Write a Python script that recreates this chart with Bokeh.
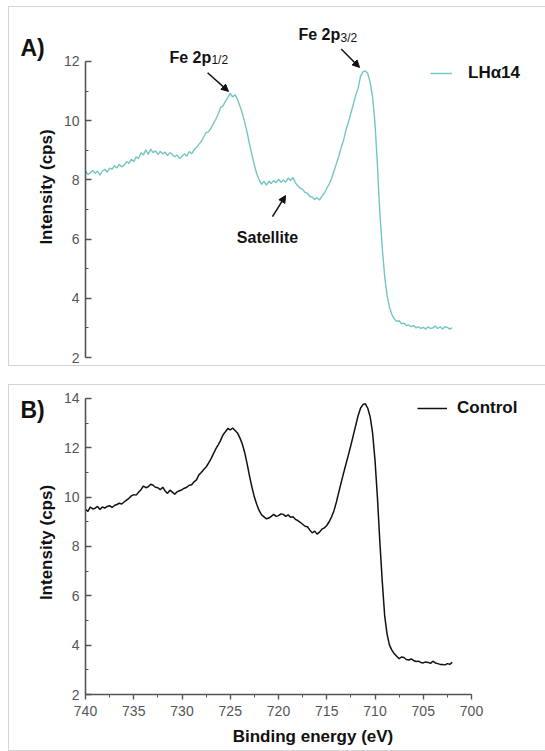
from bokeh.plotting import figure
from bokeh.models import (Range1d, SingleIntervalTicker, Legend, LegendItem,
                          Label, Arrow, NormalHead)
from bokeh.layouts import column
from bokeh.embed import file_html
from bokeh.resources import INLINE

# ---------------- data ----------------
# binding energy grid, 740 -> 702 eV in 0.25 eV steps (153 points)
energy = [740 - 0.25 * i for i in range(153)]

lha14 = [
    8.30, 8.18, 8.24, 8.32, 8.22, 8.30, 8.16, 8.30,          # 740 - 738.25
    8.36, 8.26, 8.40, 8.36, 8.48, 8.40, 8.52, 8.44,          # 738 - 736.25
    8.50, 8.62, 8.56, 8.70, 8.62, 8.78, 8.72, 8.92,          # 736 - 734.25
    8.84, 9.02, 8.86, 9.04, 8.92, 8.98, 8.86, 8.96,          # 734 - 732.25
    8.88, 8.94, 8.82, 8.92, 8.86, 8.78, 8.84, 8.72,          # 732 - 730.25
    8.80, 8.88, 8.80, 8.96, 8.88, 9.02, 9.10, 9.20,          # 730 - 728.25
    9.30, 9.45, 9.60, 9.62, 9.75, 9.90, 10.05, 10.22,        # 728 - 726.25
    10.45, 10.50, 10.65, 10.78, 10.92, 10.80, 10.88, 10.72,  # 726 - 724.25
    10.50, 10.25, 9.95, 9.60, 9.20, 8.85, 8.50, 8.20,        # 724 - 722.25
    8.00, 7.85, 7.95, 7.82, 7.96, 7.88, 7.98, 7.90,          # 722 - 720.25
    8.02, 7.92, 8.00, 7.92, 8.06, 7.98, 8.08, 7.90,          # 720 - 718.25
    7.80, 7.72, 7.68, 7.58, 7.55, 7.44, 7.42, 7.34,          # 718 - 716.25
    7.40, 7.32, 7.45, 7.55, 7.72, 7.85, 8.05, 8.30,          # 716 - 714.25
    8.55, 8.80, 9.10, 9.35, 9.70, 9.95, 10.25, 10.55,        # 714 - 712.25
    10.85, 11.10, 11.50, 11.65, 11.68, 11.60, 11.30, 10.80,  # 712 - 710.25
    9.90, 8.50, 6.90, 5.70, 4.75, 4.10, 3.70, 3.45,          # 710 - 708.25
    3.30, 3.22, 3.24, 3.14, 3.16, 3.08, 3.10, 3.04,          # 708 - 706.25
    3.08, 3.00, 3.04, 2.98, 3.02, 2.96, 3.04, 2.98,          # 706 - 704.25
    3.00, 3.06, 2.98, 3.04, 2.96, 3.04, 3.02, 2.96,          # 704 - 702.25
    3.00,                                                    # 702
]

control = [
    9.50, 9.42, 9.60, 9.52, 9.55, 9.62, 9.50, 9.60,          # 740 - 738.25
    9.55, 9.62, 9.65, 9.58, 9.66, 9.70, 9.75, 9.72,          # 738 - 736.25
    9.80, 9.88, 9.95, 10.05, 10.10, 10.08, 10.20, 10.30,     # 736 - 734.25
    10.45, 10.38, 10.42, 10.52, 10.48, 10.40, 10.38, 10.30,  # 734 - 732.25
    10.40, 10.25, 10.15, 10.28, 10.20, 10.12, 10.22, 10.26,  # 732 - 730.25
    10.30, 10.36, 10.40, 10.48, 10.50, 10.62, 10.70, 10.90,  # 730 - 728.25
    11.00, 11.12, 11.22, 11.38, 11.55, 11.75, 11.95, 12.12,  # 728 - 726.25
    12.30, 12.52, 12.65, 12.78, 12.72, 12.80, 12.70, 12.60,  # 726 - 724.25
    12.40, 12.15, 11.80, 11.35, 10.85, 10.40, 10.00, 9.70,   # 724 - 722.25
    9.45, 9.28, 9.20, 9.12, 9.15, 9.22, 9.30, 9.22,          # 722 - 720.25
    9.25, 9.32, 9.30, 9.22, 9.28, 9.18, 9.20, 9.10,          # 720 - 718.25
    9.05, 8.98, 8.90, 8.82, 8.80, 8.66, 8.55, 8.62,          # 718 - 716.25
    8.50, 8.58, 8.70, 8.75, 8.85, 9.00, 9.20, 9.45,          # 716 - 714.25
    9.80, 10.20, 10.60, 10.98, 11.35, 11.72, 12.10, 12.50,   # 714 - 712.25
    12.90, 13.30, 13.60, 13.75, 13.78, 13.60, 13.25, 12.60,  # 712 - 710.25
    11.50, 10.00, 8.20, 6.60, 5.20, 4.45, 4.00, 3.80,        # 710 - 708.25
    3.65, 3.55, 3.45, 3.52, 3.50, 3.42, 3.40, 3.44,          # 708 - 706.25
    3.38, 3.34, 3.35, 3.30, 3.28, 3.32, 3.30, 3.26,          # 706 - 704.25
    3.35, 3.28, 3.25, 3.22, 3.22, 3.20, 3.25, 3.22,          # 704 - 702.25
    3.30,                                                    # 702
]

series_names = ["LHα14", "Control"]
panel_tags = ["A)", "B)"]

FONT = "Liberation Sans"
TEAL = "#74c6c3"
INK = "#111111"
AXIS = "#555555"
BOX = {"outline": "1px solid #d4d4d4"}


def style_axes(p, y_top):
    ax = p.yaxis[0]
    ax.ticker = SingleIntervalTicker(interval=2, num_minor_ticks=2)
    ax.bounds = (2, y_top)
    ax.major_tick_in = 6
    ax.major_tick_out = 0
    ax.minor_tick_in = 3
    ax.minor_tick_out = 0
    ax.axis_line_color = AXIS
    ax.axis_line_width = 1.6
    ax.major_tick_line_color = AXIS
    ax.minor_tick_line_color = AXIS
    ax.major_tick_line_width = 1.4
    ax.major_label_text_font = FONT
    ax.major_label_text_font_size = "14px"
    ax.major_label_text_color = AXIS
    ax.major_label_standoff = 6
    ax.axis_label = "Intensity (cps)"
    ax.axis_label_text_font = FONT
    ax.axis_label_text_font_size = "17px"
    ax.axis_label_text_font_style = "bold"
    ax.axis_label_text_color = INK
    ax.axis_label_standoff = 5
    p.xgrid.visible = False
    p.ygrid.visible = False
    p.outline_line_color = None


def make_legend(renderer, name, vx, vy, gw, standoff):
    return Legend(items=[LegendItem(label=name, renderers=[renderer])],
                  location=(vx, vy), glyph_width=gw, glyph_height=20,
                  label_standoff=standoff, padding=0, margin=0, spacing=0,
                  border_line_alpha=0, background_fill_alpha=0,
                  label_text_font=FONT, label_text_font_style="bold",
                  label_text_font_size="17px", label_text_color=INK)


# ---------------- Panel A ----------------
pA = figure(width=536, height=358, output_backend="svg", toolbar_location=None,
            x_range=Range1d(740, 692.85), y_range=Range1d(2, 13.52),
            min_border_left=76, min_border_right=5, min_border_top=9,
            min_border_bottom=8)
pA.margin = (7, 0, 0, 9)
pA.styles = BOX
rA = pA.line(energy, lha14, line_color=TEAL, line_width=1.4)
style_axes(pA, 12)
pA.xaxis.visible = False
pA.add_layout(make_legend(rA, series_names[0], 345, 274, 22, 16))

pA.add_layout(Label(x=746.74, y=12.47, text=panel_tags[0], text_font=FONT,
                    text_font_size="23px", text_font_style="bold",
                    text_baseline="middle", text_color=INK), "left")

ann = dict(text_font=FONT, text_color=INK, text_baseline="alphabetic")
pA.add_layout(Label(x=731.3, y=12.15, text="Fe 2p", text_font_size="16px",
                    text_font_style="bold", **ann))
pA.add_layout(Label(x=726.95, y=12.05, text="1/2", text_font_size="12px", **ann))
pA.add_layout(Label(x=717.93, y=12.90, text="Fe 2p", text_font_size="16px",
                    text_font_style="bold", **ann))
pA.add_layout(Label(x=713.58, y=12.80, text="3/2", text_font_size="12px", **ann))
pA.add_layout(Label(x=721.14, y=6.06, text="Satellite", text_font_size="16px",
                    text_font_style="bold", text_align="center",
                    text_baseline="middle", text_font=FONT, text_color=INK))

for (x0, y0, x1, y1) in [(727.35, 11.62, 725.18, 10.99),
                         (713.5, 12.42, 711.6, 11.8),
                         (720.62, 6.76, 719.27, 7.47)]:
    pA.add_layout(Arrow(x_start=x0, y_start=y0, x_end=x1, y_end=y1,
                        line_color=INK, line_width=1.5,
                        end=NormalHead(size=7, fill_color=INK, line_color=INK)))

# ---------------- Panel B ----------------
pB = figure(width=536, height=365, output_backend="svg", toolbar_location=None,
            x_range=Range1d(740, 692.85), y_range=Range1d(2, 14.32),
            min_border_left=76, min_border_right=5, min_border_top=5,
            min_border_bottom=56)
pB.margin = (20, 0, 0, 9)
pB.styles = BOX
rB = pB.line(energy, control, line_color=INK, line_width=1.5)
style_axes(pB, 14)
xa = pB.xaxis[0]
xa.ticker = SingleIntervalTicker(interval=5, num_minor_ticks=2)
xa.bounds = (740, 700)
xa.major_tick_in = 0
xa.major_tick_out = 5
xa.minor_tick_in = 0
xa.minor_tick_out = 3
xa.axis_line_color = AXIS
xa.axis_line_width = 1.6
xa.major_tick_line_color = AXIS
xa.minor_tick_line_color = AXIS
xa.major_tick_line_width = 1.4
xa.major_label_text_font = FONT
xa.major_label_text_font_size = "14px"
xa.major_label_text_color = AXIS
xa.major_label_standoff = 6
xa.axis_label = "Binding energy (eV)"
xa.axis_label_text_font = FONT
xa.axis_label_text_font_size = "17px"
xa.axis_label_text_font_style = "bold"
xa.axis_label_text_color = INK
xa.axis_label_standoff = 8
pB.add_layout(make_legend(rB, series_names[1], 332, 276, 30, 10))

pB.add_layout(Label(x=746.74, y=13.51, text=panel_tags[1], text_font=FONT,
                    text_font_size="23px", text_font_style="bold",
                    text_baseline="middle", text_color=INK), "left")

layout = column(pA, pB, spacing=0)
open("out.html", "w").write(file_html(layout, INLINE))
